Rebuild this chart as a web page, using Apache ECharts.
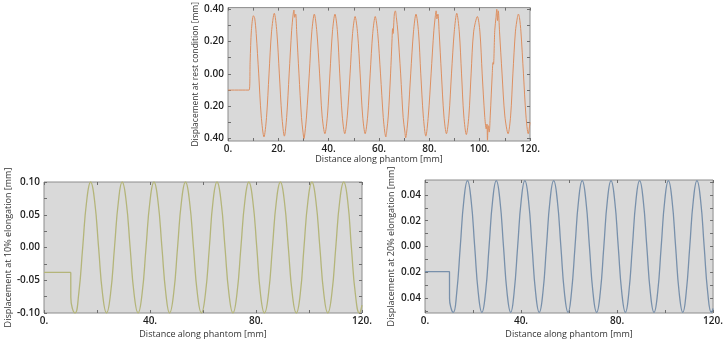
<!DOCTYPE html>
<html><head><meta charset="utf-8">
<script src="https://cdn.jsdelivr.net/npm/echarts@6/dist/echarts.min.js"></script>
<style>html,body{margin:0;padding:0;background:#fff}#c{width:726px;height:343px}</style>
</head><body><div id="c"></div>
<script>
// ---------- data ----------
const restX = [
  0, 8.4, 8.8, 9.3, 10.1, 10.6, 11.2, 12.2, 13.2, 14.3,
  15.3, 16.3, 17.3, 18.4, 19.4, 20.4, 21.4, 22.4, 23.3, 24.3,
  25.3, 25.9, 26.2, 26.5, 26.9, 27.3, 28.2, 29.2, 29.8, 30.2,
  30.6, 31.2, 32.3, 33.3, 34.3, 35.3, 36.4, 37.4, 38.5, 39.5,
  40.5, 41.5, 42.5, 43.5, 44.4, 45.4, 46.4, 47.4, 48.5, 49.5,
  50.5, 51.5, 52.5, 53.5, 54.5, 55.5, 56.5, 57.5, 58.5, 59.5,
  60.6, 61.7, 62.3, 62.7, 63.1, 63.7, 64.6, 65.2, 65.4, 65.6,
  66.1, 66.5, 66.9, 67.5, 68.6, 69.6, 70.3, 70.6, 71.0, 71.6,
  72.6, 73.7, 74.7, 75.7, 76.6, 77.6, 78.6, 79.6, 80.7, 81.8,
  82.4, 82.7, 83.0, 83.4, 83.9, 84.8, 85.8, 86.8, 87.8, 88.8,
  89.9, 90.9, 91.9, 92.8, 93.7, 94.7, 95.7, 96.6, 97.6, 99.1,
  100.1, 101.0, 102.0, 102.6, 102.9, 103.1, 103.4, 103.8, 104.2, 105.0,
  105.3, 105.5, 106.0, 106.5, 106.8, 107.1, 107.4, 107.9, 108.9, 110.0,
  111.3, 112.3, 113.2, 114.2, 115.0, 115.4, 115.8, 116.4, 117.4, 118.4,
  119.3, 120
];
const restY = [
  -0.1, -0.1, 0.08, 0.27, 0.36, 0.345, 0.25, 0, -0.26, -0.39,
  -0.27, 0, 0.26, 0.375, 0.26, 0, -0.26, -0.385, -0.27, 0,
  0.27, 0.37, 0.395, 0.35, 0.37, 0.26, 0, -0.27, -0.36, -0.40,
  -0.36, -0.26, 0, 0.26, 0.37, 0.26, 0, -0.26, -0.37, -0.26,
  0, 0.26, 0.37, 0.26, 0, -0.26, -0.37, -0.26, 0, 0.25,
  0.355, 0.25, 0, -0.26, -0.37, -0.26, 0, 0.25, 0.355, 0.25,
  0, -0.27, -0.36, -0.39, -0.35, -0.26, 0, 0.22, 0.28, 0.25,
  0.37, 0.39, 0.35, 0.26, 0, -0.27, -0.36, -0.395, -0.36, -0.26,
  0, 0.26, 0.37, 0.26, 0, -0.26, -0.385, -0.26, 0, 0.27,
  0.36, 0.39, 0.34, 0.37, 0.26, 0, -0.26, -0.37, -0.26, 0,
  0.26, 0.375, 0.26, 0, -0.26, -0.375, -0.26, 0, 0.26, 0.355,
  0.26, 0, -0.26, -0.34, -0.31, -0.41, -0.32, -0.36, -0.26, 0,
  0.07, 0.06, 0.27, 0.35, 0.40, 0.33, 0.39, 0.26, 0, -0.26,
  -0.37, -0.26, 0, 0.26, 0.35, 0.37, 0.35, 0.26, 0, -0.26,
  -0.37, -0.3
];

const e10X = [
  0, 10.1, 10.12, 10.7,
  11.7, 13.1, 14.6, 16.1, 17.6, 19.1, 20.6, 22.1,
  23.6, 25.1, 26.6, 28.1, 29.5, 31.0, 32.5, 34.0,
  35.5, 37.0, 38.5, 40.0, 41.5, 43.0, 44.5, 46.0,
  47.4, 48.9, 50.4, 51.9, 53.4, 54.9, 56.4, 57.9,
  59.4, 60.9, 62.4, 63.8, 65.3, 66.8, 68.3, 69.8,
  71.3, 72.8, 74.3, 75.8, 77.3, 78.8, 80.3, 81.7,
  83.2, 84.7, 86.2, 87.7, 89.2, 90.7, 92.2, 93.7,
  95.2, 96.7, 98.1, 99.6, 101.1, 102.6, 104.1, 105.6,
  107.1, 108.6, 110.1, 111.6, 113.1, 114.6, 116.0, 117.5,
  119.0, 120
];
const e10Y = [
  -0.038, -0.038, -0.076, -0.093,
  -0.1, -0.071, 0, 0.071, 0.1, 0.071, 0, -0.071,
  -0.1, -0.071, 0, 0.071, 0.1, 0.071, 0, -0.071,
  -0.1, -0.071, 0, 0.071, 0.1, 0.071, 0, -0.071,
  -0.1, -0.071, 0, 0.071, 0.1, 0.071, 0, -0.071,
  -0.1, -0.071, 0, 0.071, 0.1, 0.071, 0, -0.071,
  -0.1, -0.071, 0, 0.071, 0.1, 0.071, 0, -0.071,
  -0.1, -0.071, 0, 0.071, 0.1, 0.071, 0, -0.071,
  -0.1, -0.071, 0, 0.071, 0.1, 0.071, 0, -0.071,
  -0.1, -0.071, 0, 0.071, 0.1, 0.071, 0, -0.071,
  -0.1, -0.088
];

const e20X = [
  0, 10.2, 10.22, 10.9,
  11.8, 13.2, 14.7, 16.2, 17.7, 19.2, 20.7, 22.2,
  23.7, 25.2, 26.7, 28.2, 29.7, 31.2, 32.7, 34.2,
  35.7, 37.1, 38.6, 40.1, 41.6, 43.1, 44.6, 46.1,
  47.6, 49.1, 50.6, 52.1, 53.6, 55.1, 56.6, 58.1,
  59.6, 61.0, 62.5, 64.0, 65.5, 67.0, 68.5, 70.0,
  71.5, 73.0, 74.5, 76.0, 77.5, 79.0, 80.5, 82.0,
  83.5, 84.9, 86.4, 87.9, 89.4, 90.9, 92.4, 93.9,
  95.4, 96.9, 98.4, 99.9, 101.4, 102.9, 104.4, 105.9,
  107.4, 108.8, 110.3, 111.8, 113.3, 114.8, 116.3, 117.8,
  119.3, 120
];
const e20Y = [
  -0.0195, -0.0195, -0.040, -0.048,
  -0.051, -0.036, 0, 0.036, 0.051, 0.036, 0, -0.036,
  -0.051, -0.036, 0, 0.036, 0.051, 0.036, 0, -0.036,
  -0.051, -0.036, 0, 0.036, 0.051, 0.036, 0, -0.036,
  -0.051, -0.036, 0, 0.036, 0.051, 0.036, 0, -0.036,
  -0.051, -0.036, 0, 0.036, 0.051, 0.036, 0, -0.036,
  -0.051, -0.036, 0, 0.036, 0.051, 0.036, 0, -0.036,
  -0.051, -0.036, 0, 0.036, 0.051, 0.036, 0, -0.036,
  -0.051, -0.036, 0, 0.036, 0.051, 0.036, 0, -0.036,
  -0.051, -0.036, 0, 0.036, 0.051, 0.036, 0, -0.036,
  -0.051, -0.048
];

// tick values and their printed labels
const restYTicks = [-0.4, -0.2, 0, 0.2, 0.4];
const restYLabels = ['0.40', '0.20', '0.00', '0.20', '0.40'];
const restYMinor = [-0.4, -0.3, -0.2, -0.1, 0, 0.1, 0.2, 0.3, 0.4];
const e10YTicks = [-0.1, -0.05, 0, 0.05, 0.1];
const e10YLabels = ['-0.10', '-0.05', '0.00', '0.05', '0.10'];
const e10YMinor = [-0.1, -0.075, -0.05, -0.025, 0, 0.025, 0.05, 0.075, 0.1];
const e20YTicks = [-0.04, -0.02, 0, 0.02, 0.04];
const e20YLabels = ['0.04', '0.02', '0.00', '0.02', '0.04'];
const e20YMinor = [-0.05, -0.04, -0.03, -0.02, -0.01, 0, 0.01, 0.02, 0.03, 0.04, 0.05];
const restXTicks = [0, 20, 40, 60, 80, 100, 120];
const elongXTicks = [0, 40, 80, 120];

const xTitle = 'Distance along phantom [mm]';
const yTitles = ['Displacement at rest condition [mm]', 'Displacement at 10% elongation [mm]', 'Displacement at 20% elongation [mm]'];

// ---------- chart ----------
const FONT = '"Open Sans", "DejaVu Sans", sans-serif';
const zip = (xs, ys) => xs.map((x, i) => [x, ys[i]]);
const lookup = (ticks, labels) => v => {
  const i = ticks.findIndex(t => Math.abs(t - v) < 1e-9);
  return i < 0 ? '' : labels[i];
};
const tickLbl = {color: '#1e1e1e', fontSize: 10, fontWeight: 600, fontFamily: FONT};
const titleTxt = {color: '#333', fontSize: 9, fontFamily: FONT};
const tickLine = {color: '#6e6e6e', width: 1};

function xAxes(g, xticks, interval, gap) {
  const base = {
    type: 'value', gridIndex: g, min: 0, max: 120, interval: interval,
    axisLine: {show: false, onZero: false}, splitLine: {show: false},
    axisTick: {show: true, inside: true, length: 3, lineStyle: tickLine},
    minorTick: {show: true, splitNumber: 2, length: 3, lineStyle: tickLine}
  };
  return [
    Object.assign({}, base, {
      position: 'bottom',
      axisLabel: {show: true, margin: 3, formatter: v => xticks.includes(v) ? v + '.' : '', ...tickLbl},
      name: xTitle, nameLocation: 'middle', nameGap: gap, nameTextStyle: titleTxt
    }),
    Object.assign({}, base, {position: 'top', axisLabel: {show: false}})
  ];
}
function yAxes(g, min, max, ticks, labels, minor, name, gap, fs) {
  const base = {
    type: 'value', gridIndex: g, min: min, max: max,
    axisLine: {show: false, onZero: false}, splitLine: {show: false},
    axisTick: {show: true, inside: true, length: 3, lineStyle: tickLine, customValues: minor}
  };
  return [
    Object.assign({}, base, {
      position: 'left',
      axisLabel: {show: true, margin: 4, customValues: ticks, formatter: lookup(ticks, labels), ...tickLbl},
      name: name, nameLocation: 'middle', nameGap: gap,
      nameTextStyle: Object.assign({}, titleTxt, {fontSize: fs})
    }),
    Object.assign({}, base, {position: 'right', axisLabel: {show: false}})
  ];
}

const gridStyle = {show: true, backgroundColor: '#d9d9d9', borderColor: '#8c8c8c', borderWidth: 1};
const chart = echarts.init(document.getElementById('c'));
chart.setOption({
  animation: false,
  backgroundColor: '#ffffff',
  grid: [
    Object.assign({left: 228, top: 4, width: 302, height: 137}, gridStyle),
    Object.assign({left: 44, top: 182, width: 318, height: 131}, gridStyle),
    Object.assign({left: 425, top: 180, width: 294, height: 133}, gridStyle)
  ],
  xAxis: [].concat(
    xAxes(0, restXTicks, 20, 12),
    xAxes(1, elongXTicks, 40, 17),
    xAxes(2, elongXTicks, 40, 17)
  ),
  yAxis: [].concat(
    yAxes(0, -0.415, 0.41, restYTicks, restYLabels, restYMinor, yTitles[0], 24, 8.5),
    yAxes(1, -0.1, 0.1, e10YTicks, e10YLabels, e10YMinor, yTitles[1], 31, 9),
    yAxes(2, -0.0515, 0.0515, e20YTicks, e20YLabels, e20YMinor, yTitles[2], 29, 9)
  ),
  series: [
    {type: 'line', xAxisIndex: 0, yAxisIndex: 0, data: zip(restX, restY), showSymbol: false, smooth: 0.3,
     lineStyle: {width: 1, color: '#dd8f60'}},
    {type: 'line', xAxisIndex: 2, yAxisIndex: 2, data: zip(e10X, e10Y), showSymbol: false, smooth: 0.5,
     lineStyle: {width: 1.3, color: '#b4b57a'}},
    {type: 'line', xAxisIndex: 4, yAxisIndex: 4, data: zip(e20X, e20Y), showSymbol: false, smooth: 0.5,
     lineStyle: {width: 1.3, color: '#7890ab'}}
  ]
});
</script>
</body></html>
